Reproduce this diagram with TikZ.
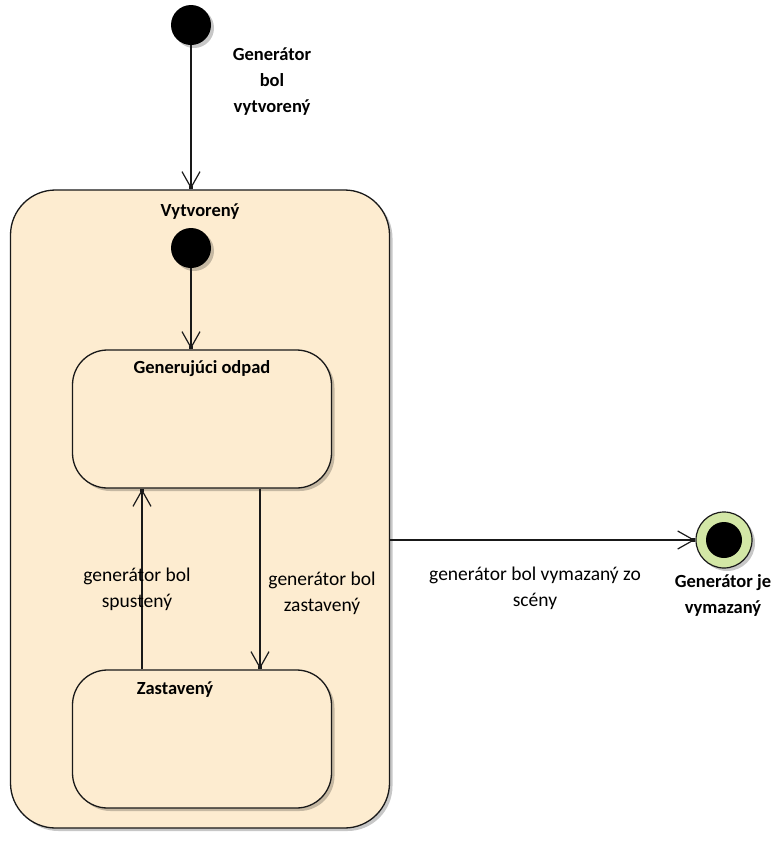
\documentclass[tikz,border=0pt]{standalone}
\usepackage{fontspec}
\setmainfont{Carlito}
\usetikzlibrary{arrows.meta,shadows}
\definecolor{statefill}{RGB}{253,236,208}
\definecolor{finalfill}{RGB}{211,231,166}
\definecolor{edgecol}{RGB}{25,25,25}
\tikzset{
  shadowed/.style={drop shadow={shadow xshift=3pt,shadow yshift=-3pt,fill=black,opacity=0.22}},
  statebox/.style={draw=edgecol, line width=1.3pt, fill=statefill, rounded corners=35pt, shadowed, inner sep=0pt},
  initdot/.style={circle, fill=black, minimum size=40pt, inner sep=0pt, shadowed},
  trans/.style={draw=edgecol, line width=1.2pt,
    -{Straight Barb[length=16pt,width=18pt,sep=-3pt]Square[length=3.5pt,width=3.5pt]}},
  lbl/.style={font=\fontsize{19.5}{26}\selectfont, align=center, text=black},
  title/.style={font=\bfseries\fontsize{18.5}{26}\selectfont, align=center, text=black},
}
\begin{document}
\begin{tikzpicture}[x=1pt,y=-1pt]
\useasboundingbox (0,0) rectangle (772,849);

% composite state
\node[statebox, minimum width=379pt, minimum height=638pt, rounded corners=45pt] (outer) at (200,509) {};
\node[title] (outerT) at (200,212) {Vytvorený};

% top-level initial pseudostate
\node[initdot] (init1) at (191,25) {};
\node[title] (init1L) at (272,82) {Generátor\\bol\\vytvorený};

% inner initial pseudostate
\node[initdot] (init2) at (191,248) {};

% substates
\node[statebox, minimum width=259pt, minimum height=138pt] (gen) at (202,419) {};
\node[title] (genT) at (202,369) {Generujúci odpad};
\node[statebox, minimum width=259pt, minimum height=138pt] (zas) at (202,739) {};
\node[title] (zasT) at (175,690) {Zastavený};

% final state
\node[circle, draw=edgecol, line width=1.2pt, fill=finalfill, minimum size=56pt, inner sep=0pt, shadowed] (fin) at (724,540) {};
\node[circle, fill=black, minimum size=36pt, inner sep=0pt] (finIn) at (fin) {};
\node[title] (finL) at (723,595) {Generátor je\\vymazaný};

% transitions
\draw[trans] (init1) -- (init1 |- outer.north);
\draw[trans] (init2) -- (init2 |- gen.north);
\draw[trans] ([xshift=-60pt]zas.north) -- ([xshift=-60pt]gen.south);
\draw[trans] ([xshift=58pt]gen.south) -- ([xshift=58pt]zas.north);
\draw[trans] ([yshift=-31pt]outer.east) -- (fin.west);

% transition labels
\node[lbl] (lblUp) at (137,589) {generátor bol\\spustený};
\node[lbl] (lblDown) at (322,593) {generátor bol\\zastavený};
\node[lbl] (lblDel) at (535,588) {generátor bol vymazaný zo\\scény};
\end{tikzpicture}
\end{document}
